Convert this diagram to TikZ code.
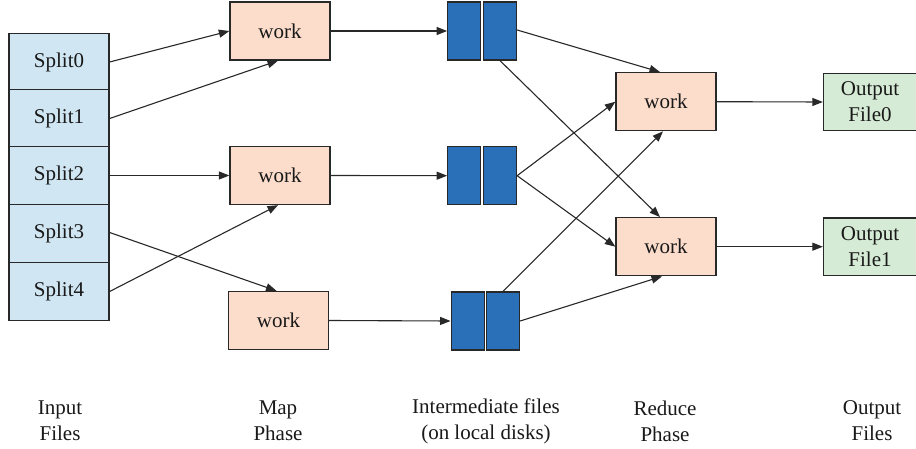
\documentclass[tikz,border=0pt]{standalone}
\usepackage{fontspec}
\setmainfont{Liberation Serif}
\usetikzlibrary{arrows.meta}
\definecolor{splitblue}{RGB}{208,230,243}
\definecolor{worksal}{RGB}{252,221,203}
\definecolor{outgreen}{RGB}{214,235,214}
\definecolor{diskblue}{RGB}{42,112,184}
\definecolor{edge}{RGB}{40,40,40}
\begin{document}
\begin{tikzpicture}[x=1pt,y=-1pt,
  every node/.style={font=\fontsize{21}{26}\selectfont, text=black!90},
  splitbox/.style={draw=edge, line width=1.3pt, fill=splitblue, minimum width=100pt, minimum height=57.5pt, inner sep=0pt},
  workbox/.style={draw=edge, line width=1.3pt, fill=worksal, minimum width=100pt, minimum height=58pt, inner sep=0pt},
  outbox/.style={draw=edge, line width=1.3pt, fill=outgreen, minimum width=93pt, minimum height=57.5pt, inner sep=0pt, align=center},
  disk/.style={draw=edge, line width=1.3pt, fill=diskblue, minimum width=33pt, minimum height=58pt, inner sep=0pt},
  arr/.style={draw=edge, line width=1.1pt, -{Triangle[length=10.5pt,width=8pt]}},
  lab/.style={align=center}
]
\useasboundingbox (0,0) rectangle (916,449);
% input splits
\node[splitbox] (s0) at (59,62) {Split0};
\node[splitbox] (s1) at (59,118.5) {Split1};
\node[splitbox] (s2) at (59,175.5) {Split2};
\node[splitbox] (s3) at (59,233.5) {Split3};
\node[splitbox] (s4) at (59,291.5) {Split4};
% map
\node[workbox] (m0) at (280,31) {work};
\node[workbox] (m1) at (280,175.5) {work};
\node[workbox] (m2) at (278.5,320.5) {work};
% intermediate
\node[disk] (d0l) at (464.3,31) {};
\node[disk] (d0r) at (500,31) {};
\node[disk] (d1l) at (464.3,175.7) {};
\node[disk] (d1r) at (500,175.7) {};
\node[disk] (d2l) at (467.7,321) {};
\node[disk] (d2r) at (503,321) {};
% reduce
\node[workbox] (r0) at (666,101.7) {work};
\node[workbox] (r1) at (666,246.7) {work};
% output
\node[outbox] (o0) at (870,102) {Output\\File0};
\node[outbox] (o1) at (870,246.7) {Output\\File1};
% arrows input -> map
\draw[arr] (s0.east) -- (m0.west);
\draw[arr] (s1.east) -- ([xshift=-2pt]m0.south);
\draw[arr] (s2.east) -- (m1.west);
\draw[arr] ([yshift=1pt]s3.east) -- ([xshift=-2pt]m2.north);
\draw[arr] (s4.east) -- ([xshift=-2pt]m1.south);
% map -> disks
\draw[arr] (m0.east) -- (d0l.west);
\draw[arr] (m1.east) -- (d1l.west);
\draw[arr] (m2.east) -- (d2l.west);
% disks -> reduce
\draw[arr] ([yshift=1pt]d0r.east) -- ([xshift=-6pt]r0.north);
\draw[arr] (d0r.south) -- ([xshift=-6pt]r1.north);
\draw[arr] (d1r.east) -- (r0.west);
\draw[arr] (d1r.east) -- (r1.west);
\draw[arr] (d2r.north) -- ([xshift=-3pt]r0.south);
\draw[arr] (d2r.east) -- ([xshift=-4pt]r1.south);
% reduce -> output
\draw[arr] (r0.east) -- (o0.west);
\draw[arr] (r1.east) -- (o1.west);
% labels
\node[lab] (l0) at (60,421) {Input\\Files};
\node[lab] (l1) at (278,421) {Map\\Phase};
\node[lab] (l2) at (486,421) {Intermediate files\\(on local disks)};
\node[lab] (l3) at (665,421) {Reduce\\Phase};
\node[lab] (l4) at (872,421) {Output\\Files};
\end{tikzpicture}
\end{document}
